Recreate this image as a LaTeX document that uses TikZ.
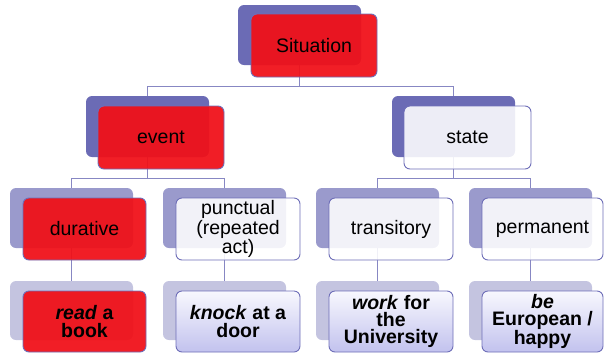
\documentclass[tikz,border=0pt]{standalone}
\usepackage{fontspec}
\setmainfont{Liberation Sans}
\definecolor{backA}{HTML}{6B6BB5}
\definecolor{backB}{HTML}{9A9ACC}
\definecolor{backC}{HTML}{C4C4E0}
\definecolor{redf}{HTML}{F01018}
\definecolor{edgec}{HTML}{6E6EB8}
\definecolor{connc}{HTML}{8787C3}
\definecolor{lavtop}{HTML}{F8F8FE}
\definecolor{lavbot}{HTML}{C2C2EE}
\tikzset{
  box/.style={rounded corners=6pt, inner sep=0pt, outer sep=0pt, anchor=north west, align=center,
    font=\fontsize{19.5}{17.2}\selectfont},
  backbox/.style={box, minimum width=123pt},
  frontbox/.style={box, draw=edgec, line width=0.9pt},
  redbox/.style={frontbox, fill=redf, fill opacity=0.94, text opacity=1},
  whitebox/.style={frontbox, fill=white, fill opacity=0.88, text opacity=1},
  lavbox/.style={frontbox, top color=lavtop, bottom color=lavbot, font=\fontsize{19.5}{17.2}\selectfont\bfseries},
  connector/.style={draw=connc, line width=0.9pt},
}
\begin{document}
\begin{tikzpicture}[x=1pt, y=-1pt]
\useasboundingbox (0,0) rectangle (604,354);
% back boxes
\node[backbox, fill=backA, minimum height=60pt] (sb) at (238,5) {};
\node[backbox, fill=backA, minimum height=61pt] (eb) at (86,96) {};
\node[backbox, fill=backA, minimum height=61pt] (stb) at (392,96) {};
\node[backbox, fill=backB, minimum height=60pt] (db) at (10,188) {};
\node[backbox, fill=backB, minimum height=60pt] (pb) at (163,188) {};
\node[backbox, fill=backB, minimum height=60pt] (tb) at (316,188) {};
\node[backbox, fill=backB, minimum height=60pt] (mb) at (469,188) {};
\node[backbox, fill=backC, minimum height=59pt] (rb) at (10,281) {};
\node[backbox, fill=backC, minimum height=59pt] (kb) at (163,281) {};
\node[backbox, fill=backC, minimum height=59pt] (wb) at (316,281) {};
\node[backbox, fill=backC, minimum height=59pt] (bb) at (469,281) {};
% connectors
\draw[connector] (sb.south) -- ++(0,21) -| (eb.north);
\draw[connector] (sb.south) -- ++(0,21) -| (stb.north);
\draw[connector] (eb.south) -- ++(0,21) -| (db.north);
\draw[connector] (eb.south) -- ++(0,21) -| (pb.north);
\draw[connector] (stb.south) -- ++(0,21) -| (tb.north);
\draw[connector] (stb.south) -- ++(0,21) -| (mb.north);
\draw[connector] (db.south) -- (rb.north);
\draw[connector] (pb.south) -- (kb.north);
\draw[connector] (tb.south) -- (wb.north);
\draw[connector] (mb.south) -- (bb.north);
% front boxes
\node[redbox, minimum width=126pt, minimum height=63pt] (s) at (251,14) {Situation};
\node[redbox, minimum width=126pt, minimum height=63pt] (e) at (98,106) {event};
\node[whitebox, minimum width=127pt, minimum height=63pt] (st) at (404,106) {state};
\node[redbox, minimum width=123pt, minimum height=62pt] (d) at (23,198) {durative};
\node[whitebox, minimum width=124pt, minimum height=62pt] (p) at (176,198) {punctual\\(repeated\\act)};
\node[whitebox, minimum width=124pt, minimum height=62pt] (t) at (329,198) {transitory};
\node[whitebox, minimum width=121pt, minimum height=62pt] (m) at (482,198) {permanent};
\node[redbox, minimum width=123pt, minimum height=61pt, font=\fontsize{19.5}{17.2}\selectfont\bfseries] (r) at (23,291) {\textit{read} a\\book};
\node[lavbox, minimum width=124pt, minimum height=61pt] (k) at (176,291) {\textit{knock} at a\\door};
\node[lavbox, minimum width=124pt, minimum height=61pt] (w) at (329,291) {\textit{work} for\\the\\University};
\node[lavbox, minimum width=121pt, minimum height=61pt] (b) at (482,291) {\textit{be}\\European /\\happy};
\end{tikzpicture}
\end{document}
